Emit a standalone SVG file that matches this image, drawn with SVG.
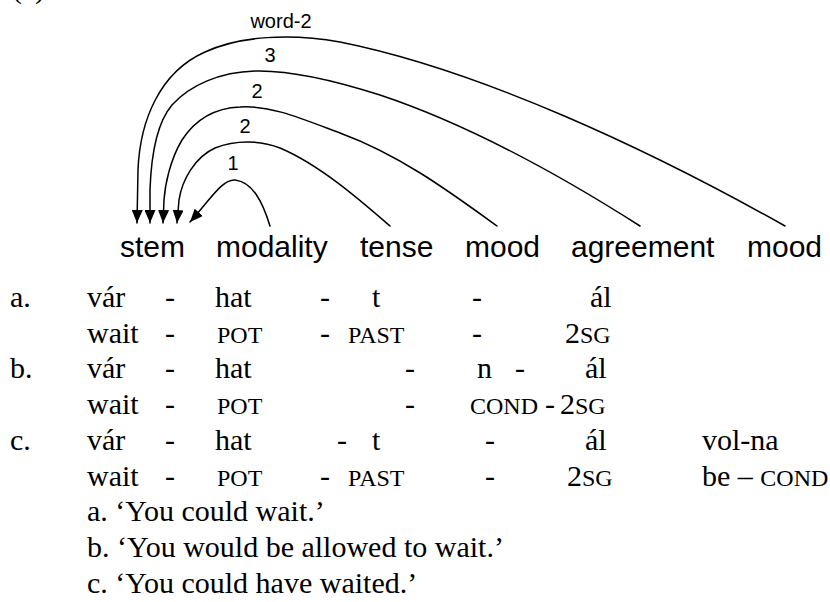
<svg xmlns="http://www.w3.org/2000/svg" width="830" height="602" viewBox="0 0 830 602">
<style>
.sans{font-family:"Liberation Sans",Arial,sans-serif;fill:#000}
.lab{font-size:30px}
.num{font-size:20px;text-anchor:middle}
.ser{font-family:"Liberation Serif","Times New Roman",serif;font-size:30px;fill:#000}
.sc{font-size:24px}
.arc{fill:none;stroke:#000;stroke-width:1.5;stroke-linejoin:round;stroke-linecap:round;marker-end:url(#ah)}
</style>
<defs>
<marker id="ah" markerUnits="userSpaceOnUse" markerWidth="14" markerHeight="11" refX="13" refY="5.5" orient="auto">
<path d="M0,0 L13,5.5 L0,11 z" fill="#000"/>
</marker>
</defs>
<rect width="830" height="602" fill="#fff"/>
<text class="ser" y="-2"><tspan x="12">(</tspan><tspan x="35">)</tspan></text>
<g id="connectors">
<path class="arc" d="M785,226 C650,150 480,70 340,42 C290,33 240,36 205,52 C160,72 140,120 138,170 L137,223"/>
<path class="arc" d="M640,226 C560,175 470,125 380,95 C330,79 290,70 255,71 C220,72 190,85 172,105 C155,125 151,160 150,190 L150,223"/>
<path class="arc" d="M497,226 C450,192 400,155 340,133 C300,118 270,105 240,107 C215,108 195,120 182,140 C170,160 165,185 164,200 L163,223"/>
<path class="arc" d="M390,226 C360,200 320,165 280,148 C260,140 235,140 215,148 C195,157 182,180 179,200 L177,223"/>
<path class="arc" d="M270,226 C262,200 252,182 235,180 C222,179 210,200 190,222"/>
<text class="sans num" x="281" y="28">word-2</text>
<text class="sans num" x="270" y="62">3</text>
<text class="sans num" x="257" y="98">2</text>
<text class="sans num" x="245" y="133">2</text>
<text class="sans num" x="233" y="170">1</text>
</g>
<g id="stem"><text class="sans lab" x="120" y="257">stem</text></g>
<g id="modality"><text class="sans lab" x="216" y="257">modality</text></g>
<g id="tense"><text class="sans lab" x="360" y="257">tense</text></g>
<g id="mood1"><text class="sans lab" x="465" y="257">mood</text></g>
<g id="agreement"><text class="sans lab" x="571" y="257">agreement</text></g>
<g id="mood2"><text class="sans lab" x="747" y="257">mood</text></g>
<g id="examples" class="ser">
<text x="10" y="307">a.</text><text x="87" y="307">vár</text><text x="165" y="307">-</text><text x="215" y="307">hat</text><text x="320" y="307">-</text><text x="372" y="307">t</text><text x="472" y="307">-</text><text x="590" y="307">ál</text>
<text x="87" y="343">wait</text><text x="165" y="343">-</text><text x="217" y="343" class="sc">POT</text><text x="320" y="343">-</text><text x="348" y="343" class="sc">PAST</text><text x="472" y="343">-</text><text x="565" y="343">2<tspan class="sc">SG</tspan></text>
<text x="10" y="378">b.</text><text x="87" y="378">vár</text><text x="165" y="378">-</text><text x="215" y="378">hat</text><text x="405" y="378">-</text><text x="477" y="378">n</text><text x="515" y="378">-</text><text x="585" y="378">ál</text>
<text x="87" y="414">wait</text><text x="165" y="414">-</text><text x="217" y="414" class="sc">POT</text><text x="405" y="414">-</text><text x="470" y="414" class="sc">COND</text><text x="545" y="414">-</text><text x="560" y="414">2<tspan class="sc">SG</tspan></text>
<text x="10" y="450">c.</text><text x="87" y="450">vár</text><text x="165" y="450">-</text><text x="215" y="450">hat</text><text x="337" y="450">-</text><text x="372" y="450">t</text><text x="485" y="450">-</text><text x="585" y="450">ál</text><text x="702" y="450">vol-na</text>
<text x="87" y="486">wait</text><text x="165" y="486">-</text><text x="217" y="486" class="sc">POT</text><text x="320" y="486">-</text><text x="348" y="486" class="sc">PAST</text><text x="485" y="486">-</text><text x="567" y="486">2<tspan class="sc">SG</tspan></text><text x="702" y="486">be – <tspan class="sc">COND</tspan></text>
<text x="87" y="521">a. ‘You could wait.’</text>
<text x="87" y="557">b. ‘You would be allowed to wait.’</text>
<text x="87" y="593">c. ‘You could have waited.’</text>
</g>
</svg>
